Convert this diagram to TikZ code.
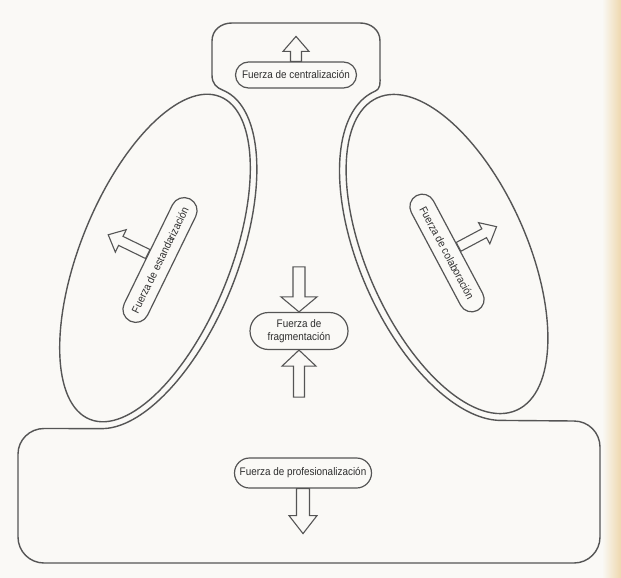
\documentclass[tikz,border=0pt]{standalone}
\usepackage{fontspec}
\newfontfamily\labelfont[FakeStretch=0.9]{Liberation Sans}
\usetikzlibrary{calc,shapes.misc}
\definecolor{ink}{HTML}{555555}
\definecolor{paper}{HTML}{FAF9F6}
\definecolor{pageedge}{HTML}{EED8AE}
\definecolor{txt}{HTML}{2E2E2E}

\begin{document}
\begin{tikzpicture}[x=1pt,y=-1pt,
  contour/.style={draw=ink, line width=1.4pt, line join=round},
  pill/.style={rounded rectangle, draw=ink, line width=1.2pt, fill=paper,
    text=txt, inner sep=1pt, font=\labelfont\fontsize{11}{13}\selectfont},
  arrowline/.style={draw=ink, line width=1.1pt, fill=paper, line join=miter},
  % hollow block arrow, tail at the origin, pointing along +x
  pics/outarrow/.style args={#1/#2/#3/#4}{code={
    \draw[arrowline] (0,-#2) -- ({#1-#4},-#2) -- ({#1-#4},-#3) -- (#1,0)
      -- ({#1-#4},#3) -- ({#1-#4},#2) -- (0,#2) -- cycle;
  }},
  % hollow block arrow, tip at the origin, pointing along +x
  pics/inarrow/.style args={#1/#2/#3/#4}{code={
    \draw[arrowline] (-#1,-#2) -- (-#4,-#2) -- (-#4,-#3) -- (0,0)
      -- (-#4,#3) -- (-#4,#2) -- (-#1,#2) -- cycle;
  }}
]
% page
\fill[paper] (0,0) rectangle (621,578);
\useasboundingbox (0,0) rectangle (621,578);
\shade[left color=paper, right color=pageedge] (602,0) rectangle (621,578);

% the two side ellipses
\draw[contour, rotate around={68:(155,258)}] (155,258) ellipse [x radius=174, y radius=75];
\draw[contour, rotate around={-66:(447,254)}] (447,254) ellipse [x radius=171, y radius=80];

% outer outline: top box, inner flanks of the ellipses, bottom box
\coordinate (lA) at ({155+181*0.3746},{258-181*0.9272});
\draw[contour] (212,75) .. controls (212,84) and (216.8,87.7) .. (lA)
  -- plot[domain=0:170, samples=80, variable=\t]
     ({155+181*cos(\t)*0.3746+82*sin(\t)*0.9272},{258-181*cos(\t)*0.9272+82*sin(\t)*0.3746})
  -- (44,428.5) .. controls (29.6,428.5) and (18,440) .. (18,454)
  -- (18,537) .. controls (18,551.4) and (29.6,563) .. (44,563)
  -- (574,563) .. controls (588.4,563) and (600,551.4) .. (600,537)
  -- (600,447) .. controls (600,432.6) and (588.4,421) .. (574,421)
  -- plot[domain=348:180, samples=80, variable=\t]
     ({447+178*cos(\t)*0.4067+87*sin(\t)*0.9135},{254+178*cos(\t)*0.9135-87*sin(\t)*0.4067})
  .. controls (381,88.5) and (380,84) .. (380,75)
  -- (380,41) .. controls (380,30) and (371,23) .. (360,23)
  -- (232,23) .. controls (221,23) and (212,30) .. (212,41)
  -- cycle;

% forces
\node[pill, minimum width=123pt, minimum height=26pt] (cen) at (296,75) {Fuerza de centralización};
\node[pill, minimum width=100pt, minimum height=37pt, align=center] (fra) at (299,331) {Fuerza de\\fragmentación};
\node[pill, minimum width=139pt, minimum height=30pt] (pro) at (303,473) {Fuerza de profesionalización};
\node[pill, rotate=64, minimum width=138pt, minimum height=26pt] (est) at (160,260) {Fuerza de estandarización};
\node[pill, rotate=-62, minimum width=132pt, minimum height=25pt] (col) at (447,253) {Fuerza de colaboración};

% block arrows
\pic[rotate=90] at (cen.north) {outarrow=25/5.5/13/15};
\pic[rotate=-90] at (fra.north) {inarrow=45/6/18/15};
\pic[rotate=90] at (fra.south) {inarrow=47/5.5/17/16};
\pic[rotate=-90] at (pro.south) {outarrow=45/6.5/14/18};
\pic[rotate=154] at (est.north) {outarrow=44/5/12.5/14};
\pic[rotate=28] at (col.north) {outarrow=43/5/12/14};
\end{tikzpicture}
\end{document}
